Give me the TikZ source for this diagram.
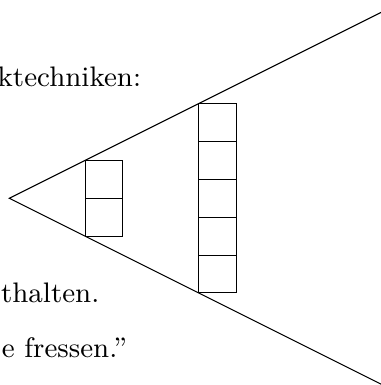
\documentclass[tikz,border=0pt]{standalone}
\usepackage{tikz}

\tikzset{
  slidetext/.style={anchor=base east, inner sep=0pt, scale=2.36, font=\fontsize{9}{11}\selectfont},
  cellbox/.style={line width=0.5pt}
}

\begin{document}
\begin{tikzpicture}[scale=1, >=stealth]
        \useasboundingbox (-0.246,-4.939) rectangle (9.807,5.246);
        \coordinate (apex) at (0,0);
        \coordinate (upper) at (10,5);
        \coordinate (lower) at (10,-5);
        \draw[thick] (upper) -- (apex) -- (lower);
        \foreach \y in {-1,0}
            \draw[cellbox] (2,\y) rectangle (3,\y+1);
        \foreach \y in {-2.5,-1.5,...,1.5}
            \draw[cellbox] (5,\y) rectangle (6,\y+1);
        \node[slidetext] (line1) at (3.503,2.952) {ktechniken:};
        \node[slidetext] (line2) at (2.40,-2.751) {thalten.};
        \node[slidetext] (line3) at (3.132,-4.21) {e fressen.''};
    \end{tikzpicture}
\end{document}
